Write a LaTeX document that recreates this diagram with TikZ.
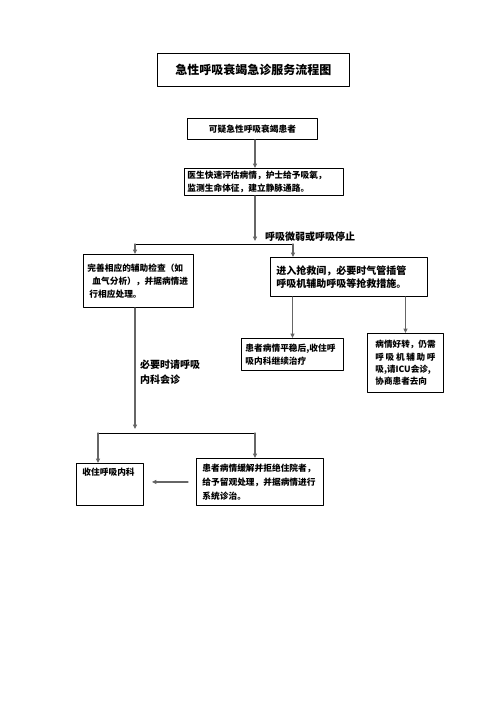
\documentclass[tikz,border=0pt]{standalone}
\usepackage{fontspec}
\newfontfamily\cjk{Noto Sans CJK SC}
\usetikzlibrary{arrows.meta,positioning,calc}
\tikzset{
  box/.style={draw,line width=0.9pt,anchor=north west,align=left,inner xsep=4pt,
              inner ysep=0pt,font=\cjk\bfseries\fontsize{8.7}{13}\selectfont},
  arr/.style={draw=black!60,line width=1.1pt,-{Triangle[length=4.5pt,width=4pt,fill=black]}},
  ln/.style={draw=black,line width=0.8pt},
  lbl/.style={anchor=west,align=left,inner sep=0pt,
              font=\cjk\bfseries\fontsize{10}{15}\selectfont},
  every picture/.style={line cap=round,line join=round}}

\begin{document}
\begin{tikzpicture}[x=1pt,y=-1pt]
  \useasboundingbox (0,0) rectangle (496,702);
  \node[box,align=center,text width=184pt,minimum height=33pt,
        font=\cjk\bfseries\fontsize{12}{14}\selectfont] (title) at (157,53){急性呼吸衰竭急诊服务流程图};
  \node[box,align=center,text width=122pt,minimum height=21pt] (suspect) at (187,118){可疑急性呼吸衰竭患者};
  \node[box,inner xsep=3pt,text width=153pt,minimum height=27pt] (triage) at (184,168)
    {医生快速评估病情，护士给予吸氧，\\监测生命体征，建立静脉通路。};
  \node[box,text width=102pt,minimum height=53pt] (exam) at (83,254)
    {完善相应的辅助检查（如\\\hspace{5pt}血气分析），并据病情进\\\hspace{2pt}行相应处理。};
  \node[box,inner xsep=6pt,text width=145pt,minimum height=39pt,
        font=\cjk\bfseries\fontsize{10}{12.5}\selectfont] (rescue) at (270,257)
    {进入抢救间，必要时气管插管\\呼吸机辅助呼吸等抢救措施。};
  \node[box,text width=94pt,minimum height=32pt] (stable) at (241,338)
    {患者病情平稳后,收住呼\\吸内科继续治疗};
  \node[box,inner xsep=8pt,text width=60pt,minimum height=59pt,
        font=\cjk\bfseries\fontsize{8.6}{12.4}\selectfont] (improve) at (367,333)
    {病情好转，仍需\\\makebox[60pt][s]{呼\hfill 吸\hfill 机\hfill 辅\hfill 助\hfill 呼}\\吸,请ICU会诊,\\协商患者去向};
  \node[box,inner xsep=6pt,text width=55pt,minimum height=42pt,text depth=25pt] (admit) at (76,463)
    {收住呼吸内科};
  \node[box,inner xsep=6pt,text width=115pt,minimum height=47pt,
        font=\cjk\bfseries\fontsize{8.7}{14}\selectfont] (relief) at (196,458)
    {患者病情缓解并拒绝住院者，\\给予留观处理，并据病情进行\\系统诊治。};
  \node[lbl] (lstop) at (265,237){呼吸微弱或呼吸停止};
  \node[lbl] (lconsult) at (140,372){必要时请呼吸\\内科会诊};
  \coordinate (split) at (255,241);
  \coordinate (hl) at (135,244); \coordinate (hr) at (293,244);
  \coordinate (merge) at (135,429);
  \coordinate (ml) at (98,433); \coordinate (mr) at (255,433);
  \draw[arr] (suspect.south -| split) -- (triage.north -| split);
  \draw[arr] (triage.south -| split) -- (split);
  \draw[ln] (hl) -- (hr);
  \draw[arr] (hl) -- (exam.north -| hl);
  \draw[arr] (hr) -- (rescue.north -| hr);
  \draw[arr] (rescue.south -| stable.north) -- (stable.north);
  \draw[arr] (rescue.south -| improve.north) -- (improve.north);
  \draw[arr] (exam.south -| merge) -- (merge);
  \draw[ln] (ml) -- (mr);
  \draw[arr] (ml) -- (admit.north -| ml);
  \draw[arr] (mr) -- (relief.north -| mr);
  \draw[arr,shorten <=8pt,shorten >=8pt] (relief.west) -- (relief.west -| admit.east);
\end{tikzpicture}
\end{document}
